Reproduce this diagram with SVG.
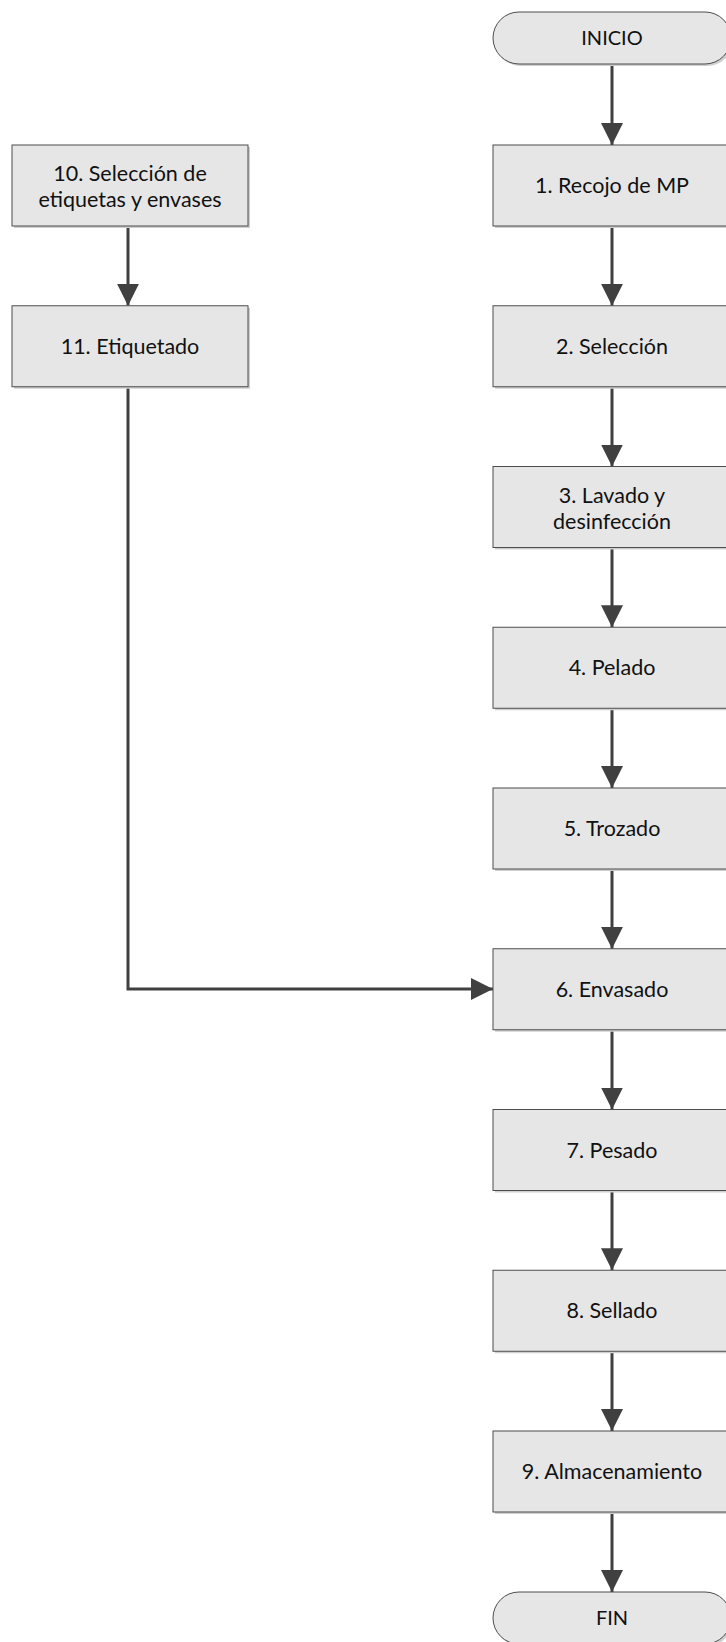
<svg xmlns="http://www.w3.org/2000/svg" width="726" height="1642" viewBox="0 0 726 1642">
<style>
.box{fill:#e6e6e6;stroke:#4d4d4d;stroke-width:1}
.sh{fill:#cfcfcf}
.t{font-family:Lato,"Liberation Sans",sans-serif;font-size:21.5px;fill:#111;text-anchor:middle}
.tt{font-family:Lato,"Liberation Sans",sans-serif;font-size:20px;fill:#111;text-anchor:middle}
.c{fill:none;stroke:#404040;stroke-width:3}
</style>
<defs>
<marker id="ah" markerUnits="userSpaceOnUse" markerWidth="24" markerHeight="24" refX="22" refY="11" orient="auto">
<path d="M0,0 L22,11 L0,22 Z" fill="#404040"/>
</marker>
</defs>
<rect width="726" height="1642" fill="#fff"/>
<g id="connectors">
<line class="c" x1="612" y1="64" x2="612" y2="145" marker-end="url(#ah)"/>
<line class="c" x1="612" y1="226" x2="612" y2="305.75" marker-end="url(#ah)"/>
<line class="c" x1="612" y1="386.75" x2="612" y2="466.5" marker-end="url(#ah)"/>
<line class="c" x1="612" y1="547.5" x2="612" y2="627.25" marker-end="url(#ah)"/>
<line class="c" x1="612" y1="708.25" x2="612" y2="788" marker-end="url(#ah)"/>
<line class="c" x1="612" y1="869" x2="612" y2="948.75" marker-end="url(#ah)"/>
<line class="c" x1="612" y1="1029.75" x2="612" y2="1109.5" marker-end="url(#ah)"/>
<line class="c" x1="612" y1="1190.5" x2="612" y2="1270.25" marker-end="url(#ah)"/>
<line class="c" x1="612" y1="1351.25" x2="612" y2="1431" marker-end="url(#ah)"/>
<line class="c" x1="612" y1="1512" x2="612" y2="1592" marker-end="url(#ah)"/>
<line class="c" x1="128" y1="226" x2="128" y2="305.75" marker-end="url(#ah)"/>
<polyline class="c" points="128,386.75 128,989 493,989" marker-end="url(#ah)"/>
</g>
<g id="inicio">
<rect class="sh" x="495" y="14" width="238" height="52" rx="26"/>
<rect class="box" x="493" y="12" width="238" height="52" rx="26"/>
<text class="tt" x="612" y="45">INICIO</text>
</g>
<g id="n1">
<rect class="sh" x="495" y="147" width="236" height="81"/>
<rect class="box" x="493" y="145" width="236" height="81"/>
<text class="t" x="612" y="193">1. Recojo de MP</text>
</g>
<g id="n2">
<rect class="sh" x="495" y="307.75" width="236" height="81"/>
<rect class="box" x="493" y="305.75" width="236" height="81"/>
<text class="t" x="612" y="353.75">2. Selección</text>
</g>
<g id="n3">
<rect class="sh" x="495" y="468.5" width="236" height="81"/>
<rect class="box" x="493" y="466.5" width="236" height="81"/>
<text class="t" x="612" y="503">3. Lavado y</text>
<text class="t" x="612" y="529">desinfección</text>
</g>
<g id="n4">
<rect class="sh" x="495" y="629.25" width="236" height="81"/>
<rect class="box" x="493" y="627.25" width="236" height="81"/>
<text class="t" x="612" y="675.25">4. Pelado</text>
</g>
<g id="n5">
<rect class="sh" x="495" y="790" width="236" height="81"/>
<rect class="box" x="493" y="788" width="236" height="81"/>
<text class="t" x="612" y="836">5. Trozado</text>
</g>
<g id="n6">
<rect class="sh" x="495" y="950.75" width="236" height="81"/>
<rect class="box" x="493" y="948.75" width="236" height="81"/>
<text class="t" x="612" y="996.75">6. Envasado</text>
</g>
<g id="n7">
<rect class="sh" x="495" y="1111.5" width="236" height="81"/>
<rect class="box" x="493" y="1109.5" width="236" height="81"/>
<text class="t" x="612" y="1157.5">7. Pesado</text>
</g>
<g id="n8">
<rect class="sh" x="495" y="1272.25" width="236" height="81"/>
<rect class="box" x="493" y="1270.25" width="236" height="81"/>
<text class="t" x="612" y="1318.25">8. Sellado</text>
</g>
<g id="n9">
<rect class="sh" x="495" y="1433" width="236" height="81"/>
<rect class="box" x="493" y="1431" width="236" height="81"/>
<text class="t" x="612" y="1479">9. Almacenamiento</text>
</g>
<g id="fin">
<rect class="sh" x="495" y="1594" width="238" height="52" rx="26"/>
<rect class="box" x="493" y="1592" width="238" height="52" rx="26"/>
<text class="tt" x="612" y="1625">FIN</text>
</g>
<g id="n10">
<rect class="sh" x="14" y="147" width="236" height="81"/>
<rect class="box" x="12" y="145" width="236" height="81"/>
<text class="t" x="130" y="180.5">10. Selección de</text>
<text class="t" x="130" y="207">etiquetas y envases</text>
</g>
<g id="n11">
<rect class="sh" x="14" y="307.75" width="236" height="81"/>
<rect class="box" x="12" y="305.75" width="236" height="81"/>
<text class="t" x="130" y="353.75">11. Etiquetado</text>
</g>
</svg>
